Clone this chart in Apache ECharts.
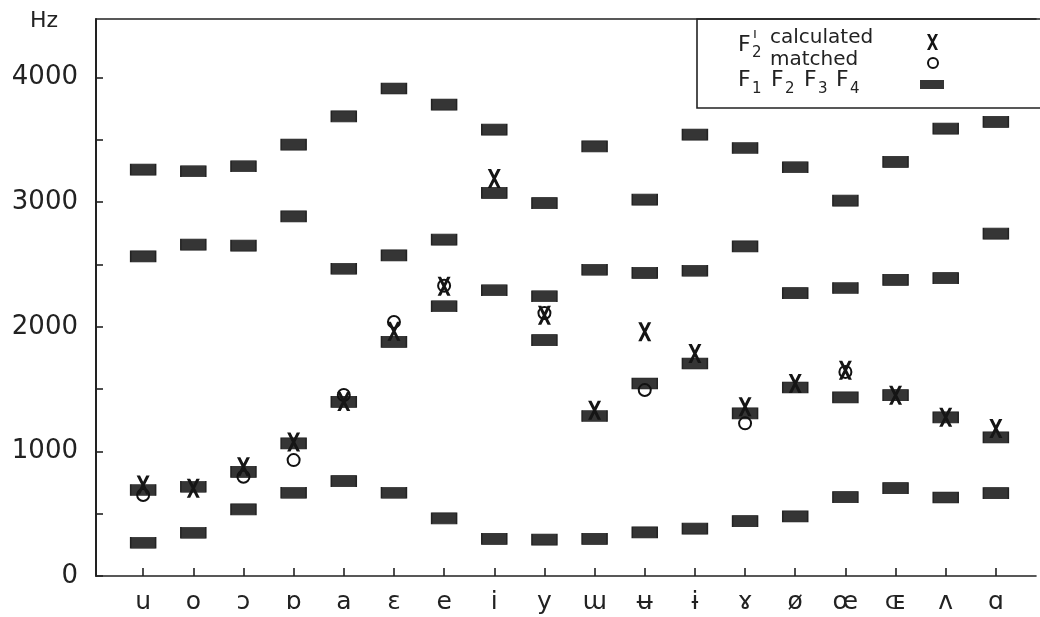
<!DOCTYPE html>
<html>
<head>
<meta charset="utf-8">
<script src="https://cdn.jsdelivr.net/npm/echarts@6/dist/echarts.min.js"></script>
<style>html,body{margin:0;padding:0;background:#fff}#c{width:1040px;height:617px}</style>
</head>
<body>
<div id="c"></div>
<script>
// Vowel categories (x axis)
const vowels = ['u','o','ɔ','ɒ','a','ɛ','e','i','y','ɯ','ʉ','ɨ','ɤ','ø','œ','ɶ','ʌ','ɑ'];
// Formant frequencies (Hz)
const F1 = [267, 347, 535, 668, 762, 668, 463, 298, 292, 298, 350, 380, 440, 478, 633, 705, 630, 665];
const F2 = [690, 716, 836, 1064, 1398, 1879, 2165, 2293, 1893, 1284, 1545, 1705, 1305, 1513, 1433, 1451, 1273, 1112];
const F3 = [2565, 2659, 2651, 2886, 2466, 2573, 2699, 3074, 2245, 2458, 2432, 2450, 2645, 2270, 2311, 2377, 2391, 2747];
const F4 = [3261, 3248, 3288, 3462, 3689, 3912, 3783, 3582, 2993, 3448, 3020, 3542, 3435, 3280, 3012, 3323, 3590, 3644];
// F2' calculated (X) and matched (O)
const F2calc = [730, 705, 877, 1075, 1400, 1965, 2325, 3190, 2093, 1330, 1960, 1786, 1358, 1545, 1652, 1451, 1273, 1184];
const F2match = [650, null, 796, 930, 1452, 2039, 2330, null, 2110, null, 1492, null, 1225, null, 1638, null, null, null];
// Y tick labels
const yTicks = [0, 500, 1000, 1500, 2000, 2500, 3000, 3500, 4000];
const yLabels = [0, 1000, 2000, 3000, 4000];

const toPts = arr => arr.map((v, i) => [i, v]).filter(p => p[1] !== null);
const idx = vowels.map((_, i) => i);
const XPTS = [[0,0],[2.6,0],[5,4.6],[7.4,0],[10,0],[6.3,7],[10,14],[7.4,14],[5,9.4],[2.6,14],[0,14],[3.7,7]];
const XPATH = 'path://M' + XPTS.map(p => p.join(',')).join(' L') + ' Z';
const FONT = 'DejaVu Sans';
const INK = '#222';

const barSeries = (name, arr) => ({
  name, type: 'scatter', data: toPts(arr), symbol: 'rect', symbolSize: [25, 11],
  itemStyle: { color: '#353535', borderColor: '#222', borderWidth: 1, opacity: 1 }, z: 2
});

const txt = (x, y, text, size) => ({ type: 'text', x, y, style: { text, font: size + 'px "DejaVu Sans"', fill: INK } });

const chart = echarts.init(document.getElementById('c'), null, { renderer: 'canvas' });
chart.setOption({
  animation: false,
  backgroundColor: '#fff',
  grid: { left: 96, right: 4, top: 19, bottom: 41 },
  xAxis: [{
    type: 'value', min: -0.94, max: 17.8,
    axisLine: { show: true, onZero: false, lineStyle: { color: INK, width: 1.6 } },
    axisTick: { show: true, inside: true, length: 8, customValues: idx, lineStyle: { color: INK, width: 1.6 } },
    axisLabel: { show: true, customValues: idx, formatter: v => vowels[Math.round(v)] || '', fontFamily: FONT, fontSize: 25, color: INK, margin: 14 },
    splitLine: { show: false }
  }, {
    type: 'value', position: 'top', min: -0.94, max: 17.8,
    axisLine: { show: true, onZero: false, lineStyle: { color: INK, width: 1.6 } },
    axisTick: { show: false }, axisLabel: { show: false }, splitLine: { show: false }
  }],
  yAxis: {
    type: 'value', min: 0, max: 4470, interval: 500,
    axisLine: { show: true, onZero: false, lineStyle: { color: INK, width: 2 } },
    axisTick: { show: true, inside: true, length: 7, customValues: yTicks, lineStyle: { color: INK, width: 1.6 } },
    axisLabel: { show: true, customValues: yLabels, formatter: v => String(v), fontFamily: FONT, fontSize: 26, color: INK, margin: 18 },
    splitLine: { show: false }
  },
  series: [
    barSeries('F1', F1), barSeries('F2', F2), barSeries('F3', F3), barSeries('F4', F4),
    { name: 'matched', type: 'scatter', data: toPts(F2match), symbol: 'circle', symbolSize: 12,
      itemStyle: { color: 'rgba(0,0,0,0)', borderColor: '#111', borderWidth: 2, opacity: 1 }, z: 3 },
    { name: 'calculated', type: 'scatter', data: toPts(F2calc), symbol: XPATH, symbolSize: [13, 19],
      itemStyle: { color: '#151515', opacity: 1 }, z: 4 }
  ],
  graphic: [
    txt(30, 10, 'Hz', 22),
    { type: 'polyline', shape: { points: [[1040, 19], [697, 19], [697, 108], [1040, 108]] }, style: { stroke: INK, lineWidth: 1.6, fill: null } },
    txt(738, 34, 'F', 22), txt(753, 27, 'ı', 14), txt(752, 46, '2', 15),
    txt(770, 28, 'calculated', 20), txt(770, 50, 'matched', 20),
    { type: 'polygon', shape: { points: XPTS.map(p => [927 + p[0] * 1.1, 34 + p[1] * 16 / 14]) }, style: { fill: '#151515' } },
    { type: 'circle', shape: { cx: 933, cy: 63, r: 5 }, style: { fill: null, stroke: '#111', lineWidth: 2 } },
    txt(738, 69, 'F', 22), txt(752, 82, '1', 15),
    txt(771, 69, 'F', 22), txt(785, 82, '2', 15),
    txt(804, 69, 'F', 22), txt(818, 82, '3', 15),
    txt(836, 69, 'F', 22), txt(850, 82, '4', 15),
    { type: 'rect', shape: { x: 920, y: 80, width: 24, height: 9 }, style: { fill: '#353535' } }
  ]
});
</script>
</body>
</html>
